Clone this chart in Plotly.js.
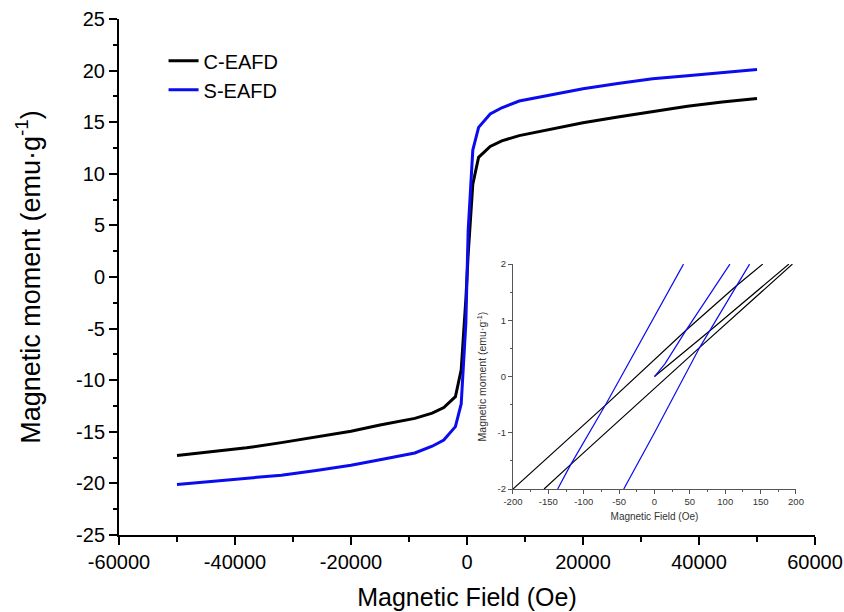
<!DOCTYPE html>
<html>
<head>
<meta charset="utf-8">
<script src="https://cdn.plot.ly/plotly-3.0.1.min.js"></script>
<style>html,body{margin:0;padding:0;background:#fff;}#chart{width:844px;height:612px;}</style>
</head>
<body>
<div id="chart"></div>
<script>
// ---- main loop data (field in Oe, moment in emu/g) ----
var fieldMain = [-50000, -44000, -38000, -32000, -26000, -20000, -15000, -9000, -6000, -4000, -2000, -1000, -200, 0, 200, 1000, 2000, 4000, 6000, 9000, 15000, 20000, 26000, 32000, 38000, 44000, 50000];
var momentC = [-17.3, -16.95, -16.55, -16.05, -15.5, -14.95, -14.35, -13.7, -13.2, -12.65, -11.6, -9.0, -2.2, 0, 2.2, 9.0, 11.6, 12.65, 13.2, 13.7, 14.35, 14.95, 15.5, 16.05, 16.55, 16.95, 17.3];
var momentS = [-20.1, -19.8, -19.5, -19.2, -18.75, -18.25, -17.7, -17.05, -16.4, -15.8, -14.5, -12.3, -4.5, 0, 4.5, 12.3, 14.5, 15.8, 16.4, 17.05, 17.7, 18.25, 18.75, 19.2, 19.5, 19.8, 20.1];

// ---- inset (low field) data: virgin, descending, ascending branches ----
var insetFieldC  = [0, 77, 190, null, 153, 115, 45, -68, -200, null, -156, -119, 64, 195];
var insetMomentC = [0, 0.8, 2, null, 2, 1.606, 0.829, -0.494, -2, null, -2, -1.571, 0.518, 2];
var insetFieldS  = [0, 15, 45, 106.6, null, 41, -68.3, -118.6, -136.8, null, -43.4, 0, 64, 115.2, 134.4];
var insetMomentS = [0, 0.23, 0.829, 2, null, 2, -0.482, -1.571, -2, null, -2, -1.0, 0.52, 1.606, 2];

// ---- tick labels ----
var xTicks = [-60000, -40000, -20000, 0, 20000, 40000, 60000];
var xTickText = ['-60000', '-40000', '-20000', '0', '20000', '40000', '60000'];
var yTicks = [-25, -20, -15, -10, -5, 0, 5, 10, 15, 20, 25];
var yTickText = ['-25', '-20', '-15', '-10', '-5', '0', '5', '10', '15', '20', '25'];
var insetXTicks = [-200, -150, -100, -50, 0, 50, 100, 150, 200];
var insetXText = ['-200', '-150', '-100', '-50', '0', '50', '100', '150', '200'];
var insetYTicks = [-2, -1, 0, 1, 2];
var insetYText = ['-2', '-1', '0', '1', '2'];

var seriesNames = ['C-EAFD', 'S-EAFD'];
var colC = '#000000', colS = '#0b0bf0';
var F = 'Liberation Sans, Arial, sans-serif';

var traces = [
  {x: fieldMain, y: momentC, mode: 'lines', name: seriesNames[0], line: {color: colC, width: 3}, xaxis: 'x', yaxis: 'y'},
  {x: fieldMain, y: momentS, mode: 'lines', name: seriesNames[1], line: {color: colS, width: 3}, xaxis: 'x', yaxis: 'y'},
  {x: insetFieldC, y: insetMomentC, mode: 'lines', showlegend: false, line: {color: colC, width: 1.2}, xaxis: 'x3', yaxis: 'y3', connectgaps: false},
  {x: insetFieldS, y: insetMomentS, mode: 'lines', showlegend: false, line: {color: colS, width: 1.2}, xaxis: 'x3', yaxis: 'y3', connectgaps: false}
];

var layout = {
  width: 844, height: 612,
  margin: {l: 119, r: 29, t: 19, b: 77},
  paper_bgcolor: '#fff', plot_bgcolor: '#fff',
  font: {family: F, color: '#000'},
  showlegend: true,
  legend: {x: 0.064, y: 0.957, xanchor: 'left', yanchor: 'top', bgcolor: 'rgba(0,0,0,0)', font: {size: 20, family: F}, tracegroupgap: 0},
  xaxis: {
    range: [-60000, 60000], tickmode: 'array', tickvals: xTicks, ticktext: xTickText,
    ticks: 'outside', ticklen: 8, tickwidth: 2, tickcolor: '#000',
    minor: {tickmode: 'linear', tick0: 0, dtick: 10000, ticks: 'outside', ticklen: 5, tickwidth: 2, tickcolor: '#000'},
    showline: true, linewidth: 2, linecolor: '#000', showgrid: false, zeroline: false,
    tickfont: {size: 20, family: F},
    title: {text: 'Magnetic Field (Oe)', font: {size: 25, family: F}, standoff: 16}
  },
  yaxis: {
    range: [-25, 25], tickmode: 'array', tickvals: yTicks, ticktext: yTickText,
    ticks: 'outside', ticklen: 8, tickwidth: 2, tickcolor: '#000',
    minor: {tickmode: 'linear', tick0: 0, dtick: 2.5, ticks: 'outside', ticklen: 4, tickwidth: 2, tickcolor: '#000'},
    showline: true, linewidth: 2, linecolor: '#000', showgrid: false, zeroline: false,
    tickfont: {size: 20, family: F},
    title: {text: 'Magnetic moment (emu·g<sup>-1</sup>)', font: {size: 27, family: F}, standoff: 28}
  },
  xaxis2: {
    overlaying: 'x', side: 'top', anchor: 'y', range: [0, 10],
    tickmode: 'array', tickvals: [2, 4, 6, 8], ticks: 'inside', ticklen: 8, tickwidth: 2, tickcolor: '#000',
    minor: {tickmode: 'array', tickvals: [1, 3, 5, 7, 9], ticks: 'inside', ticklen: 4, tickwidth: 2, tickcolor: '#000'},
    showticklabels: false, showline: true, linewidth: 2, linecolor: '#000', showgrid: false, zeroline: false
  },
  yaxis2: {
    overlaying: 'y', side: 'right', anchor: 'x', range: [516, 0],
    tickmode: 'array', tickvals: [50, 100, 150, 200, 250, 300, 350, 400, 450, 500], ticks: 'inside', ticklen: 8, tickwidth: 2, tickcolor: '#000',
    minor: {tickmode: 'array', tickvals: [25, 75, 125, 175, 225, 275, 325, 375, 425, 475], ticks: 'inside', ticklen: 4, tickwidth: 2, tickcolor: '#000'},
    showticklabels: false, showline: true, linewidth: 2, linecolor: '#000', showgrid: false, zeroline: false
  },
  xaxis3: {
    domain: [0.566, 0.9727], anchor: 'y3', range: [-200, 200],
    tickmode: 'array', tickvals: insetXTicks, ticktext: insetXText,
    ticks: 'outside', ticklen: 4, tickwidth: 1, tickcolor: '#555',
    minor: {tickmode: 'linear', tick0: 0, dtick: 25, ticks: 'outside', ticklen: 2, tickwidth: 1, tickcolor: '#555'},
    showline: true, linewidth: 1, linecolor: '#555', showgrid: false, zeroline: false,
    tickfont: {size: 9.5, family: F, color: '#333'},
    title: {text: 'Magnetic Field (Oe)', font: {size: 10, family: F, color: '#333'}, standoff: 6}
  },
  yaxis3: {
    domain: [0.0891, 0.525], anchor: 'x3', range: [-2, 2],
    tickmode: 'array', tickvals: insetYTicks, ticktext: insetYText,
    ticks: 'outside', ticklen: 4, tickwidth: 1, tickcolor: '#555',
    minor: {tickmode: 'linear', tick0: 0, dtick: 0.5, ticks: 'outside', ticklen: 2, tickwidth: 1, tickcolor: '#555'},
    showline: true, linewidth: 1, linecolor: '#555', showgrid: false, zeroline: false,
    tickfont: {size: 9.5, family: F, color: '#333'},
    title: {text: 'Magnetic moment (emu·g<sup>-1</sup>)', font: {size: 10.5, family: F, color: '#333'}, standoff: 8}
  },
  xaxis4: {
    overlaying: 'x3', side: 'top', anchor: 'y3', range: [0, 10],
    tickmode: 'linear', tick0: 0, dtick: 1, ticks: 'inside', ticklen: 3, tickwidth: 1, tickcolor: '#555',
    showticklabels: false, showline: true, linewidth: 1, linecolor: '#555', showgrid: false, zeroline: false
  },
  yaxis4: {
    overlaying: 'y3', side: 'right', anchor: 'x3', range: [0, 8],
    tickmode: 'linear', tick0: 0, dtick: 1, ticks: 'inside', ticklen: 3, tickwidth: 1, tickcolor: '#555',
    showticklabels: false, showline: true, linewidth: 1, linecolor: '#555', showgrid: false, zeroline: false
  }
};

Plotly.newPlot('chart', traces, layout, {staticPlot: true, displayModeBar: false});
</script>
</body>
</html>
